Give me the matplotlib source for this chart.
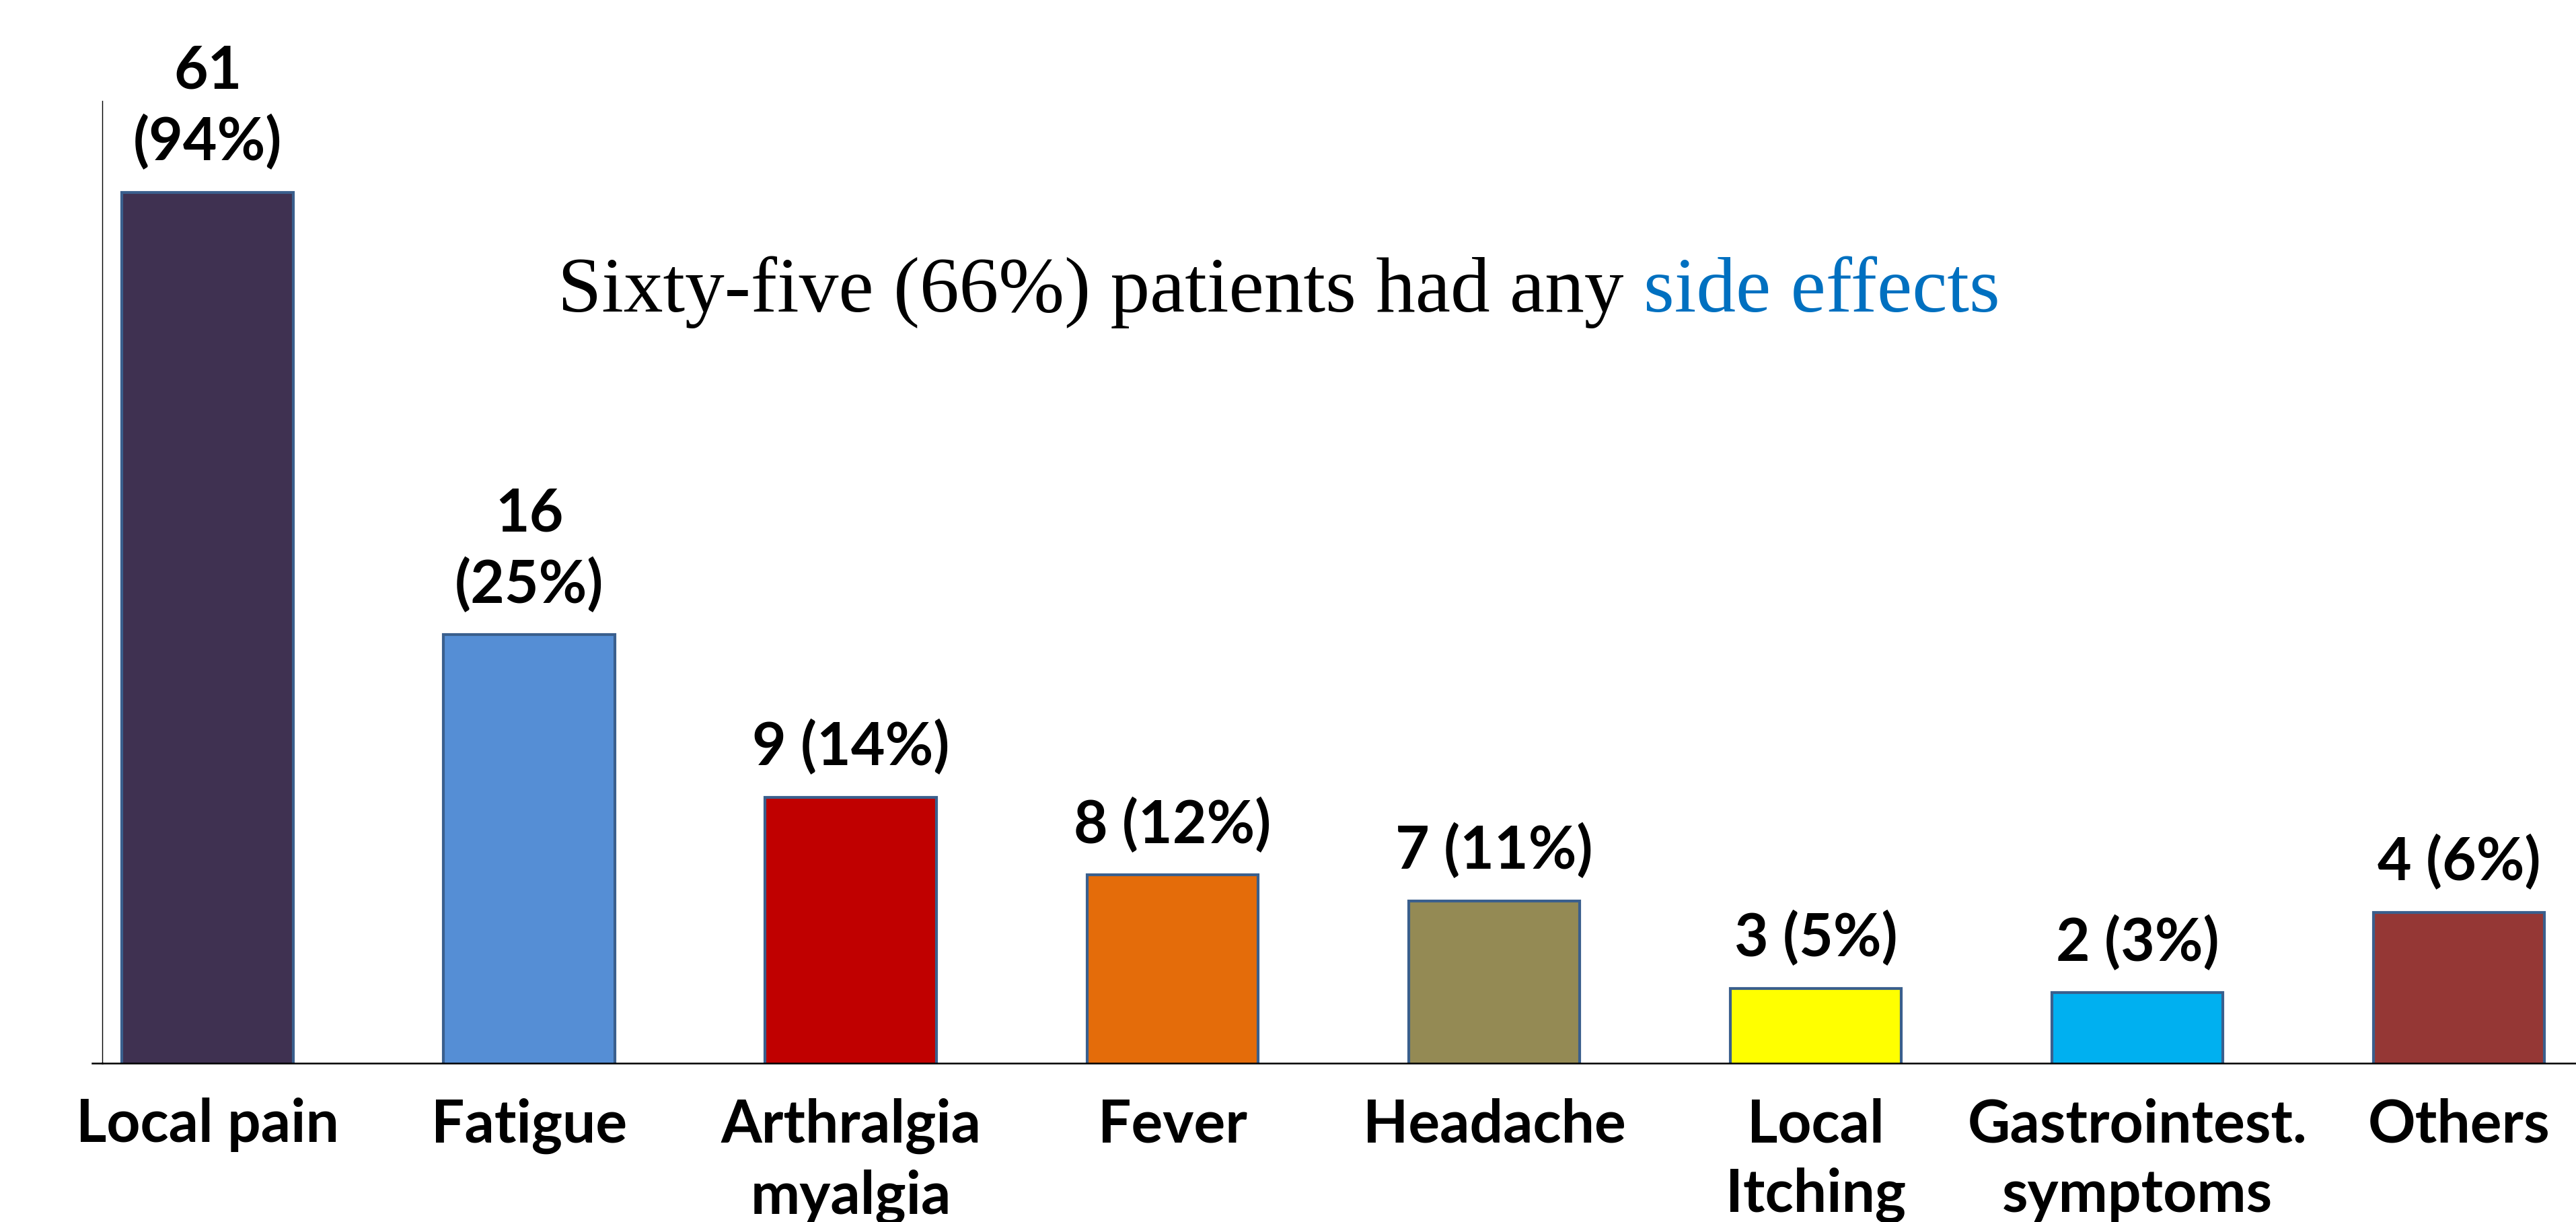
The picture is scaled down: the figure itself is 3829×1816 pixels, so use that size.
import matplotlib
matplotlib.use("Agg")
import matplotlib.pyplot as plt
import numpy as np

# ---- data ----
categories = ["Local pain", "Fatigue", "Arthralgia\nmyalgia", "Fever", "Headache",
              "Local\nItching", "Gastrointest.\nsymptoms", "Others"]
counts = [61, 16, 9, 8, 7, 3, 2, 4]
percents = [94, 25, 14, 12, 11, 5, 3, 6]
# drawn bar heights as they appear in the picture (axis units, Local pain = 61)
bar_heights = [61.0, 30.2, 18.9, 13.5, 11.7, 5.6, 5.3, 10.9]
two_line_label = [True, True, False, False, False, False, False, False]
title_main = "Sixty-five (66%) patients had any "
title_blue = "side effects"

# ---- styles ----
colors = ["#3F3151", "#558ED5", "#C00000", "#E46C0A", "#948A54",
          "#FFFF00", "#00B0F0", "#953735"]
edge_color = "#3A5F8D"
label_font = "Lato"
title_font = "Liberation Serif"

W, H, DPI = 3830, 1816, 100
fig = plt.figure(figsize=(W / DPI, H / DPI), dpi=DPI)
fig.patch.set_facecolor("white")

ax_left, ax_right = 152, 3830
ax_top, ax_bottom = 150, 1580
ax = fig.add_axes([ax_left / W, 1 - ax_bottom / H,
                   (ax_right - ax_left) / W, (ax_bottom - ax_top) / H])

x = np.arange(len(categories))
ax.bar(x, bar_heights, width=0.533, bottom=-0.4, color=colors,
       edgecolor=edge_color, linewidth=3, zorder=1)

ax.set_xlim(-0.328, 7.366)
ax.set_ylim(0, 66.95)

for s in ["top", "right"]:
    ax.spines[s].set_visible(False)
ax.spines["left"].set_linewidth(1.0)
ax.spines["bottom"].set_linewidth(1.8)
ax.spines["left"].set_zorder(3)
ax.spines["bottom"].set_zorder(3)
# small stub of the baseline to the left of the y axis
ax.plot([-15 / (ax_right - ax_left), 0], [0, 0], color="black", lw=1.8,
        transform=ax.transAxes, clip_on=False)

ax.set_yticks([])
ax.set_xticks(x)
ax.set_xticklabels(categories, fontfamily=label_font, fontweight="bold",
                   fontsize=63, linespacing=1.34)
ax.tick_params(axis="x", length=0, pad=37)

for xi, h, c, p, two in zip(x, bar_heights, counts, percents, two_line_label):
    txt = f"{c}\n({p}%)" if two else f"{c} ({p}%)"
    ax.annotate(txt, xy=(xi, h), xytext=(0, 28), textcoords="offset points",
                ha="center", va="baseline", fontfamily=label_font,
                fontweight="bold", fontsize=63, linespacing=1.34,
                multialignment="center")

t1 = fig.text(829 / W, 1 - 463 / H, title_main, fontfamily=title_font,
              fontsize=84.5, color="black", ha="left", va="baseline")
fig.canvas.draw()
ax.annotate(title_blue, xy=(1, 0), xycoords=t1, xytext=(0, 0),
            textcoords="offset points", ha="left", va="bottom",
            fontfamily=title_font, fontsize=84.5, color="#0070C0")

fig.savefig("out.png", dpi=DPI, facecolor="white")
